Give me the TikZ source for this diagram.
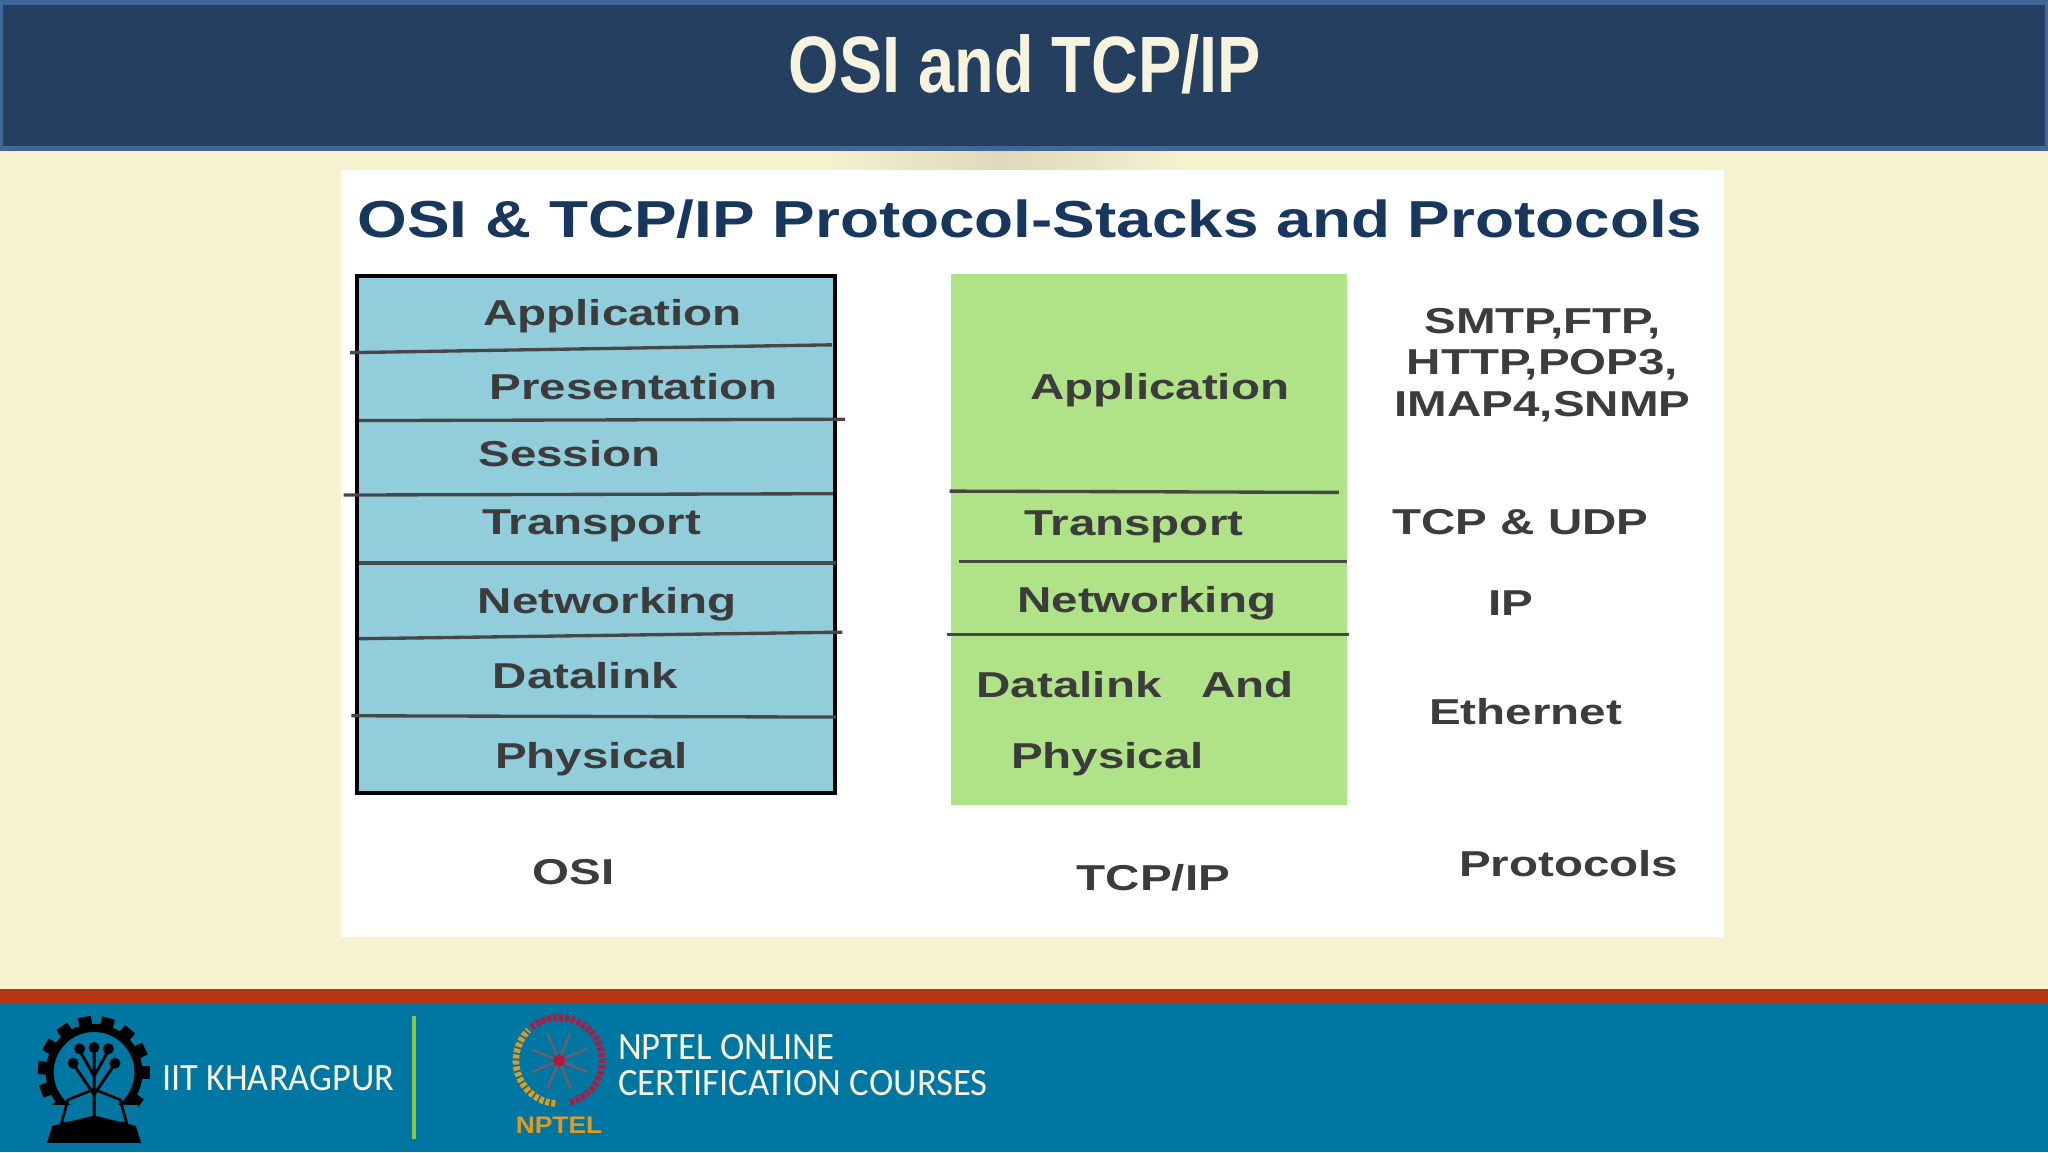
\documentclass[tikz,border=0pt]{standalone}
\usepackage{fontspec}
\setmainfont{Liberation Sans}
\newfontfamily\footfont{Carlito}
\usepackage{tikz}
\usetikzlibrary{positioning,calc}
\definecolor{hdblue}{HTML}{243F60}
\definecolor{hdedge}{HTML}{3F6797}
\definecolor{cream}{HTML}{F6F1CF}
\definecolor{osiblue}{HTML}{92CDDC}
\definecolor{tcpgreen}{HTML}{B0E388}
\definecolor{bandred}{HTML}{B53513}
\definecolor{footblue}{HTML}{0076A3}
\definecolor{laytext}{HTML}{3C3C3C}
\definecolor{headtext}{HTML}{17375E}
\definecolor{offwhite}{HTML}{F7F3DF}
\definecolor{nptelor}{HTML}{E09A22}
\definecolor{nptelred}{HTML}{B5173F}
\definecolor{ruleline}{HTML}{8CC63F}
\begin{document}
\begin{tikzpicture}[x=0.9796pt,y=-0.9796pt,
	lay/.style={anchor=base,inner sep=0pt,xscale=1.32,text=laytext,font=\bfseries\fontsize{27}{27}\selectfont},
	sep/.style={draw=black!72,line width=2.5pt},
	foot/.style={anchor=base west,inner sep=0pt,text=offwhite,font=\footfont\fontsize{29}{29}\selectfont}]
	\useasboundingbox (0,0) rectangle (1568,882);
	% slide background
	\fill [cream] (0,0) rectangle (1568,882);
	\fill [hdedge] (0,0) rectangle (1568,115.5);
	\fill [hdblue] (2,4) rectangle (1566,112);
	\fill [bandred] (0,757) rectangle (1568,769);
	\fill [footblue] (0,769) rectangle (1568,882);
	\shade [left color=cream,right color=cream,middle color=black!10!cream] (630,116) rectangle (905,130);
	\fill [white] (261,130) rectangle (1320,717);
	\path (784.5,71) node (title) [anchor=base,inner sep=0pt,xscale=0.81,text=offwhite,font=\bfseries\fontsize{60}{60}\selectfont] {OSI and TCP/IP};
	\path (788.5,182) node (head) [anchor=base,inner sep=0pt,xscale=1.228,text=headtext,font=\bfseries\fontsize{39}{39}\selectfont] {OSI \& TCP/IP Protocol-Stacks and Protocols};
	% the two stacks
	\path (456,409) node (osibox) [draw=black,line width=3pt,fill=osiblue,minimum width=366pt*0.9796,minimum height=396pt*0.9796] {};
	\path (879.5,413) node (tcpbox) [fill=tcpgreen,minimum width=303pt*0.9796,minimum height=406pt*0.9796] {};
	\foreach \n/\xa/\ya/\xb/\yb in {a/268/270/637/264,b/275/322/647/321,c/263/379/638/378,d/275/431/640/431,e/275/489/645/484,f/269/548/640/549,
		g/727/376/1025/377,h/734/430/1031/430,i/725/486/1033/486}{
		\coordinate (\n0) at (\xa,\ya);
		\coordinate (\n1) at (\xb,\yb);
		\draw [sep] (\n0) -- (\n1);
	}
	% layer names
	\foreach \n/\x/\y/\t in {o1/469/249/Application,o2/485/306/Presentation,o3/436/357/Session,o4/453/409/Transport,o5/465/470/Networking,o6/448/527/Datalink,o7/453/588/Physical,
		t1/888/306/Application,t2/868/410/Transport,t3/878/469/Networking,t4/869/534/Datalink\ \ \ And,t5/848/588/Physical,
		p1/1181/255/{SMTP,FTP,},p2/1181/287/{HTTP,POP3,},p3/1181/319/{IMAP4,SNMP},p4/1164/409/TCP \& UDP,p5/1157/471/IP,p6/1168/555/Ethernet,
		l1/439/677/OSI,l2/883/682/{TCP/IP},l3/1201/671/Protocols}{
		\path (\x,\y) node (\n) [lay] {\t};
	}
	% footer
	\path (124,835) node (iit) [foot,xscale=0.94] {IIT KHARAGPUR};
	\path (473,811) node (np1) [foot,xscale=0.95] {NPTEL ONLINE};
	\path (473,839) node (np2) [foot,xscale=0.95] {CERTIFICATION COURSES};
	\path (428,868) node (np3) [anchor=base,inner sep=0pt,xscale=1.1,text=nptelor,font=\bfseries\fontsize{18}{18}\selectfont] {NPTEL};
	\coordinate (rule0) at (317,778);
	\coordinate (rule1) at (317,872);
	\draw [line width=2.4pt,draw=ruleline] (rule0) -- (rule1);
	% kharagpur emblem
	\foreach \a in {0,25,...,335}{
		\fill [black,rotate around={\a:(72,821)}] (108,816) rectangle (115,826);
	}
	\draw [black,line width=6pt] (72,821) circle (34);
	\fill [footblue] (38,846) rectangle (106,882);
	\draw [black,line width=2.2pt] (72,858) -- (72,806) (72,838) -- (57,816) (72,838) -- (87,816) (72,824) -- (62,806) (72,824) -- (82,806);
	\foreach \x/\y in {72/802,56/814,88/814,61/803,83/803}{
		\fill [black] (\x,\y) circle (4.2);
	}
	\draw [black,line width=2pt] (52,842) -- (72,834) -- (92,842) -- (97,860) -- (47,860) -- cycle;
	\fill [black] (40,862) -- (72,854) -- (104,862) -- (108,875) -- (36,875) -- cycle;
	% nptel emblem
	\draw [nptelor,line width=5pt,dash pattern=on 3pt off 1.5pt] (428,812) ++(95:33) arc (95:225:33);
	\draw [nptelred,line width=5pt,dash pattern=on 3pt off 1.5pt] (428,812) ++(75:33) arc (75:-130:33);
	\foreach \a in {0,45,...,315}{
		\draw [nptelor!40!nptelred!60!footblue,line width=1.6pt] (428,812) -- ++(\a+22:23);
	}
	\fill [nptelred] (428,812) circle (4.5);
\end{tikzpicture}
\end{document}
